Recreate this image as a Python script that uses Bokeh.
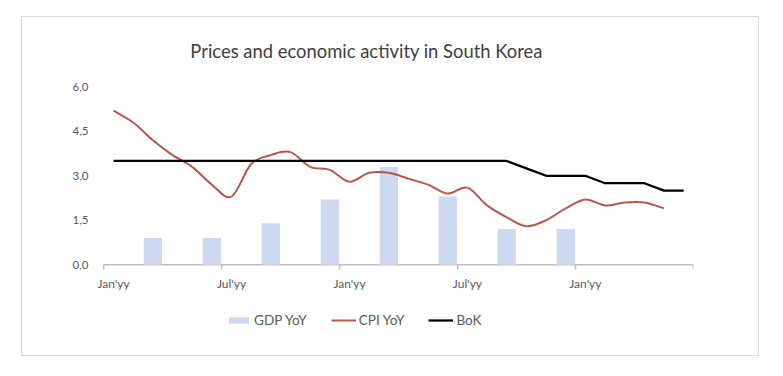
from bokeh.plotting import figure
from bokeh.models import (Range1d, FixedTicker, CustomJSTickFormatter, Legend,
                          LegendItem, ColumnDataSource, InlineStyleSheet)
from bokeh.core.properties import value
from bokeh.embed import file_html
from bokeh.resources import INLINE

# ---------------- data ----------------
n_months = 30
tick_months = [0, 6, 12, 18, 24]
tick_labels = ["Jan'yy", "Jul'yy", "Jan'yy", "Jul'yy", "Jan'yy"]
y_ticks = [0, 1.5, 3.0, 4.5, 6.0]

gdp_months = [2, 5, 8, 11, 14, 17, 20, 23]
gdp_yoy = [0.9, 0.9, 1.4, 2.2, 3.3, 2.3, 1.2, 1.2]

cpi_yoy = [5.2, 4.8, 4.2, 3.7, 3.3, 2.7, 2.3, 3.4, 3.7, 3.8, 3.3, 3.2,
           2.8, 3.1, 3.1, 2.9, 2.7, 2.4, 2.6, 2.0, 1.6, 1.3, 1.5, 1.9,
           2.2, 2.0, 2.1, 2.1, 1.9]

bok_rate = [3.5, 3.5, 3.5, 3.5, 3.5, 3.5, 3.5, 3.5, 3.5, 3.5, 3.5, 3.5,
            3.5, 3.5, 3.5, 3.5, 3.5, 3.5, 3.5, 3.5, 3.5, 3.25, 3.0, 3.0,
            3.0, 2.75, 2.75, 2.75, 2.5, 2.5]

title_text = "Prices and economic activity in South Korea"

# ---------------- figure ----------------
p = figure(width=738, height=340, x_range=Range1d(-0.47, n_months), y_range=Range1d(-2.46, 7.94),
           output_backend="svg", toolbar_location=None,
           min_border_left=72, min_border_right=67, min_border_top=12, min_border_bottom=20,
           margin=(16, 0, 0, 21))
p.stylesheets = [InlineStyleSheet(css=":host { border: 1px solid #d9d9d9; }")]
p.xgrid.visible = False
p.ygrid.visible = False
p.outline_line_color = None
p.background_fill_color = "white"
p.border_fill_color = "white"

FONT = "Lato"
GRAY = "#595959"

# title (drawn inside the frame, above the data area)
p.text(x=[13.37], y=[7.21], text=[title_text], text_align="center", text_baseline="middle",
       text_font=value(FONT), text_font_size="18.4px", text_color="#404040")

# y axis
p.yaxis.ticker = FixedTicker(ticks=y_ticks)
p.yaxis.formatter = CustomJSTickFormatter(code="return tick.toFixed(1).replace('.', ',');")
p.yaxis.axis_line_color = None
p.yaxis.major_tick_line_color = None
p.yaxis.minor_tick_line_color = None
p.yaxis.major_label_standoff = 0
p.yaxis.major_label_text_font = FONT
p.yaxis.major_label_text_font_size = "11.5px"
p.yaxis.major_label_text_color = GRAY

# category x axis drawn at y = 0 (line, boundary ticks, labels)
p.xaxis.visible = False
p.segment(x0=[0], y0=[0], x1=[n_months], y1=[0], line_color="#bfbfbf", line_width=1.5)
bounds = list(range(0, n_months + 1, 6))
p.segment(x0=bounds, y0=[0] * len(bounds), x1=bounds, y1=[-0.16] * len(bounds),
          line_color="#bfbfbf", line_width=1.5)
p.text(x=[m + 0.5 for m in tick_months], y=[-0.63] * len(tick_months), text=tick_labels,
       text_align="center", text_baseline="middle", text_font=value(FONT),
       text_font_size="12px", text_color=GRAY)

# bars
bars = p.vbar(x=[m + 0.5 for m in gdp_months], top=gdp_yoy, width=0.93,
              fill_color="#cdd9f0", line_color=None)

# smoothed CPI line (Bezier segments through the monthly values)
xs = [i + 0.5 for i in range(len(cpi_yoy))]
n = len(xs)
seg = dict(x0=[], y0=[], x1=[], y1=[], cx0=[], cy0=[], cx1=[], cy1=[])
for i in range(n - 1):
    a = max(i - 1, 0)
    b = min(i + 2, n - 1)
    seg["x0"].append(xs[i]); seg["y0"].append(cpi_yoy[i])
    seg["x1"].append(xs[i + 1]); seg["y1"].append(cpi_yoy[i + 1])
    seg["cx0"].append(xs[i] + (xs[i + 1] - xs[a]) / 6)
    seg["cy0"].append(cpi_yoy[i] + (cpi_yoy[i + 1] - cpi_yoy[a]) / 6)
    seg["cx1"].append(xs[i + 1] - (xs[b] - xs[i]) / 6)
    seg["cy1"].append(cpi_yoy[i + 1] - (cpi_yoy[b] - cpi_yoy[i]) / 6)
cpi_r = p.bezier(x0="x0", y0="y0", x1="x1", y1="y1", cx0="cx0", cy0="cy0",
                 cx1="cx1", cy1="cy1", source=ColumnDataSource(seg),
                 line_color="#b5564b", line_width=2)

bok_r = p.line(x=[i + 0.5 for i in range(len(bok_rate))], y=bok_rate,
               line_color="black", line_width=2.25)

legend = Legend(items=[LegendItem(label="GDP YoY", renderers=[bars]),
                       LegendItem(label="CPI YoY", renderers=[cpi_r]),
                       LegendItem(label="BoK", renderers=[bok_r])],
                orientation="horizontal", location=(132, 9),
                border_line_color=None, background_fill_alpha=0,
                padding=0, margin=0, spacing=24,
                glyph_width=25, glyph_height=8, label_standoff=3, label_height=16,
                label_text_font=FONT, label_text_font_size="13.6px",
                label_text_color=GRAY)
p.add_layout(legend)

open("out.html", "w").write(file_html(p, INLINE))
